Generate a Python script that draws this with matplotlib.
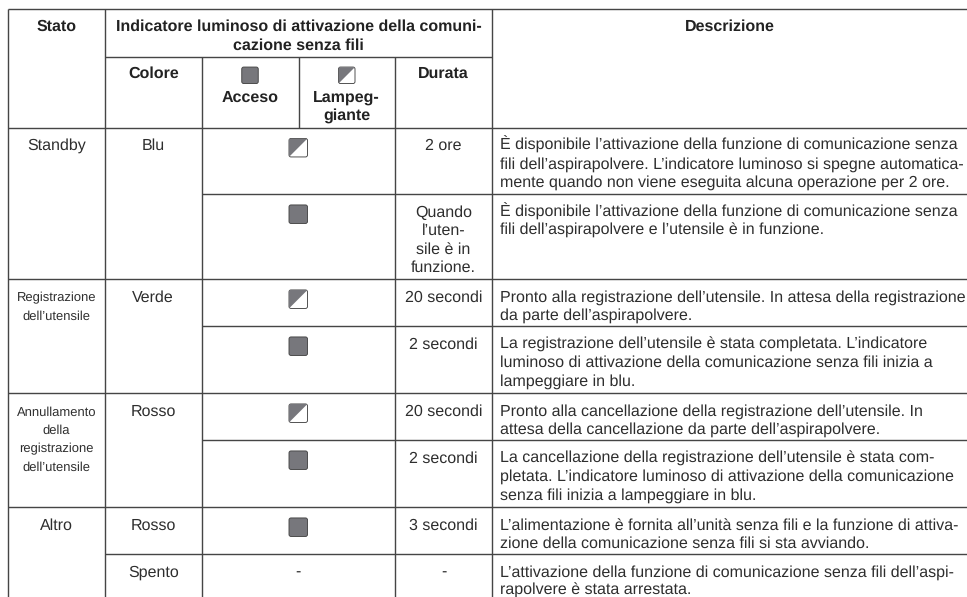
import matplotlib
matplotlib.use("Agg")
import matplotlib.pyplot as plt
from matplotlib.patches import FancyBboxPatch, Polygon

# grid lines of the table, pixels from top left
col_x = [8, 105, 201.5, 298.5, 395, 492, 967]
row_y = [9, 56.5, 127.5, 194, 279, 326, 393, 440, 507, 554, 597]

stato = ["Standby", "Registrazione\ndell\u2019utensile",
         "Annullamento\ndella\nregistrazione\ndell\u2019utensile", "Altro"]
stato_rows = [0, 2, 4, 6]
stato_size = [16.0, 13.4, 13.4, 16.0]
colore = ["Blu", "", "Verde", "", "Rosso", "", "Rosso", "Spento"]
durata = ["2 ore", "Quando\nl\u2019uten-\nsile \u00e8 in\nfunzione.", "20 secondi", "2 secondi",
          "20 secondi", "2 secondi", "3 secondi", "-"]
# b = blinking, s = steady, - = no icon
icone = ["b", "s", "b", "s", "b", "s", "s", "-"]
descrizione = [
    "\u00c8 disponibile l\u2019attivazione della funzione di comunicazione senza\n"
    "fili dell\u2019aspirapolvere. L\u2019indicatore luminoso si spegne automatica-\n"
    "mente quando non viene eseguita alcuna operazione per 2 ore.",
    "\u00c8 disponibile l\u2019attivazione della funzione di comunicazione senza\n"
    "fili dell\u2019aspirapolvere e l\u2019utensile \u00e8 in funzione.",
    "Pronto alla registrazione dell\u2019utensile. In attesa della registrazione\n"
    "da parte dell\u2019aspirapolvere.",
    "La registrazione dell\u2019utensile \u00e8 stata completata. L\u2019indicatore\n"
    "luminoso di attivazione della comunicazione senza fili inizia a\n"
    "lampeggiare in blu.",
    "Pronto alla cancellazione della registrazione dell\u2019utensile. In\n"
    "attesa della cancellazione da parte dell\u2019aspirapolvere.",
    "La cancellazione della registrazione dell\u2019utensile \u00e8 stata com-\n"
    "pletata. L\u2019indicatore luminoso di attivazione della comunicazione\n"
    "senza fili inizia a lampeggiare in blu.",
    "L\u2019alimentazione \u00e8 fornita all\u2019unit\u00e0 senza fili e la funzione di attiva-\n"
    "zione della comunicazione senza fili si sta avviando.",
    "L\u2019attivazione della funzione di comunicazione senza fili dell\u2019aspi-\n"
    "rapolvere \u00e8 stata arrestata.",
]

plt.rcParams["font.family"] = ["Liberation Sans", "DejaVu Sans"]
plt.rcParams["text.hinting"] = "no_hinting"
plt.rcParams["text.hinting_factor"] = 1
LINE = "#454545"
TXT = "#2e2e2e"
GREY = "#77777c"
FS = 15.85
ROW_PX = 18.4  # line pitch in the reference

fig = plt.figure(figsize=(967 / 72, 597 / 72), dpi=72)
ax = fig.add_axes([0, 0, 1, 1])
ax.set_xlim(0, 967)
ax.set_ylim(597, 0)
ax.axis("off")


def hline(y, i0, i1):
    ax.plot([col_x[i0], col_x[i1]], [y, y], color=LINE, lw=1.4, solid_capstyle="butt")


def vline(i, y0, y1):
    ax.plot([col_x[i], col_x[i]], [y0, y1], color=LINE, lw=1.4, solid_capstyle="butt")


def txt(x, y, s, bold=False, size=FS, ha="center"):
    # y is the baseline of the first line; one text object per line keeps the pitch exact
    for k, riga in enumerate(s.split("\n")):
        ax.text(x, y + k * ROW_PX, riga, ha=ha, va="baseline", fontsize=size,
                color="#222222" if bold else TXT, fontweight="bold" if bold else "normal")


def icona(cx, cy, kind, w=18.5):
    x0, y0 = cx - w / 2, cy - w / 2
    r = 2
    face = GREY if kind == "s" else "white"
    box = FancyBboxPatch((x0 + r, y0 + r), w - 2 * r, w - 2 * r, boxstyle="round,pad=%g" % r,
                         fc=face, ec="#444444", lw=0.9, zorder=3)
    ax.add_patch(box)
    if kind == "b":
        tri = Polygon([(x0, y0), (x0 + w, y0), (x0, y0 + w)], closed=True, fc=GREY, ec="none", zorder=4)
        tri.set_clip_path(box)
        ax.add_patch(tri)


# column centres
cc = [(col_x[i] + col_x[i + 1]) / 2 for i in range(6)]
top = row_y[2:]

# verticals
for i in [0, 1, 5]:
    vline(i, row_y[0], 597)
vline(2, row_y[1], 597)
vline(3, row_y[1], row_y[2])
vline(4, row_y[1], 597)

# header lines
hline(row_y[0], 0, 6)
hline(row_y[1], 1, 5)
hline(row_y[2], 0, 6)

# Stato and Colore cells only split between groups
hline(row_y[3], 2, 6)
hline(row_y[4], 0, 6)
hline(row_y[5], 2, 6)
hline(row_y[6], 0, 6)
hline(row_y[7], 2, 6)
hline(row_y[8], 0, 6)
hline(row_y[9], 1, 6)

# header text
txt(cc[0], 31, "Stato", True)
txt((col_x[1] + col_x[5]) / 2, 31, "Indicatore luminoso di attivazione della comuni-\ncazione senza fili", True)
txt((col_x[5] + 967) / 2, 31, "Descrizione", True)
txt(cc[1], 77.7, "Colore", True)
txt(cc[2], 101.7, "Acceso", True)
txt(cc[3], 101.7, "Lampeg-\ngiante", True)
txt(cc[4], 77.7, "Durata", True)
icona(cc[2], 75.3, "s", w=16.5)
icona(cc[3], 75.3, "b", w=16.5)

# body
for r, y in enumerate(top[:8]):
    txt(cc[1], y + 22.6, colore[r])
    txt(cc[4], y + 22.6, durata[r])
    txt(500, y + 22.6, descrizione[r], ha="left")
    if icone[r] == "-":
        txt((col_x[2] + col_x[4]) / 2, y + 22.6, "-")
    else:
        icona((col_x[2] + col_x[4]) / 2, y + 20.2, icone[r])

for s, r, size in zip(stato, stato_rows, stato_size):
    txt(cc[0], top[r] + 22.6, s, size=size)

fig.savefig("out.png", dpi=72)
